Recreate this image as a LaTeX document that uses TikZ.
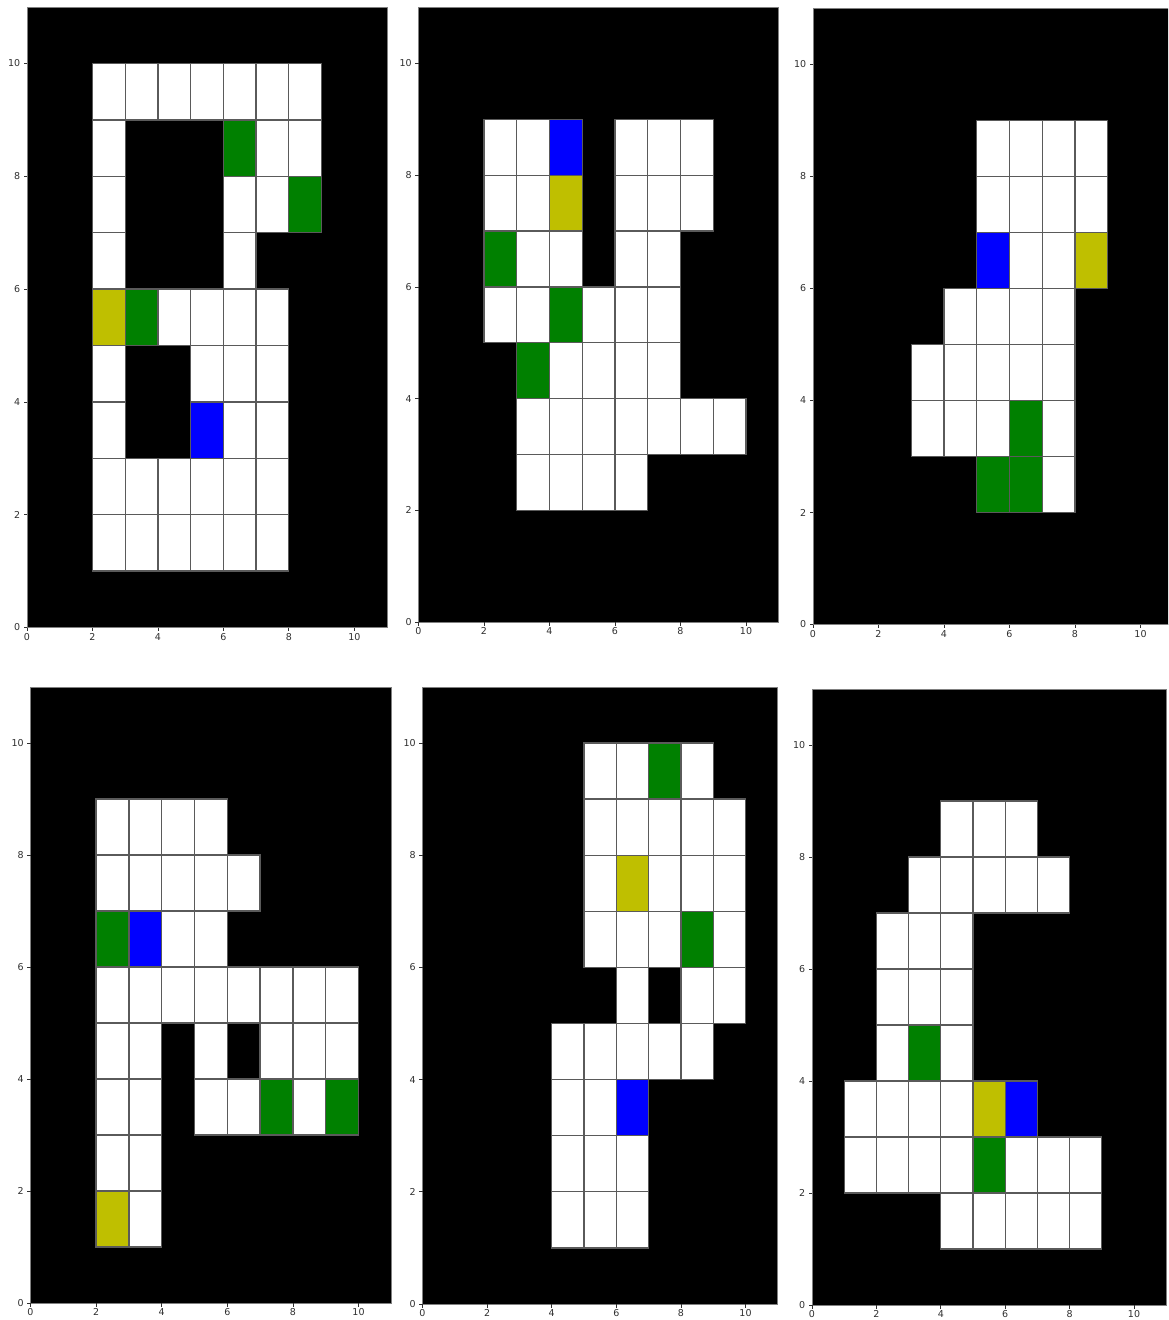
\documentclass[tikz,border=0pt]{standalone}
\usepackage{fontspec}
\setmainfont{DejaVu Sans}
\definecolor{mgreen}{HTML}{008000}
\definecolor{myellow}{HTML}{BFBF00}
\definecolor{mblue}{HTML}{0000FF}
\definecolor{edgegray}{HTML}{5A5A5A}
\definecolor{spinegray}{HTML}{808080}
\definecolor{lblgray}{HTML}{303030}
\tikzset{
  cellbox/.style={draw=edgegray, line width=1.3pt},
  spineln/.style={draw=spinegray, line width=0.8pt},
  tickln/.style={draw=lblgray, line width=0.8pt},
  ticklbl/.style={inner sep=0pt, text=lblgray, font=\fontsize{9.5}{10}\selectfont},
}
% #1 name, #2 x0, #3 ux, #4 y0, #5 uy, #6 white, #7 green, #8 yellow, #9 blue
\newcommand\gridpanel[9]{%
  \begin{scope}[shift={(#2,-#4)}]
    \fill[black] (0,0) rectangle ({11*#3},{11*#5});
    \begin{scope}[xscale=#3, yscale=#5]
      \foreach \cx/\cy in {#6} \filldraw[cellbox, fill=white] (\cx,\cy) rectangle ++(1,1);
      \foreach \cx/\cy in {#7} \filldraw[cellbox, fill=mgreen] (\cx,\cy) rectangle ++(1,1);
      \foreach \cx/\cy in {#8} \filldraw[cellbox, fill=myellow] (\cx,\cy) rectangle ++(1,1);
      \foreach \cx/\cy in {#9} \filldraw[cellbox, fill=mblue] (\cx,\cy) rectangle ++(1,1);
    \end{scope}
    \draw[spineln] (0,0) rectangle ({11*#3},{11*#5});
    \foreach \t in {0,2,...,10}{
      \draw[tickln] ({\t*#3},0) -- ++(0,-3.5) node[below=2pt, ticklbl] (#1x\t) {\t};
      \draw[tickln] (0,{\t*#5}) -- ++(-3.5,0) node[left=3pt, ticklbl] (#1y\t) {\t};
    }
  \end{scope}}
\begin{document}
\begin{tikzpicture}[x=1pt, y=1pt]
\useasboundingbox (0,0) rectangle (1168,-1320);
\clip (0,0) rectangle (1168,-1320);
\fill[white] (0,0) rectangle (1168,-1320);
% panel 1
\gridpanel{pa}{27}{32.73}{627.5}{56.4}
 {2/9,3/9,4/9,5/9,6/9,7/9,8/9, 2/8,7/8,8/8, 2/7,6/7,7/7, 2/6,6/6, 4/5,5/5,6/5,7/5, 2/4,5/4,6/4,7/4, 2/3,6/3,7/3, 2/2,3/2,4/2,5/2,6/2,7/2, 2/1,3/1,4/1,5/1,6/1,7/1}
 {6/8,8/7,3/5}{2/5}{5/3}
% panel 2
\gridpanel{pb}{418.5}{32.75}{622}{55.85}
 {2/8,3/8,6/8,7/8,8/8, 2/7,3/7,6/7,7/7,8/7, 3/6,4/6,6/6,7/6, 2/5,3/5,5/5,6/5,7/5, 4/4,5/4,6/4,7/4, 3/3,4/3,5/3,6/3,7/3,8/3,9/3, 3/2,4/2,5/2,6/2}
 {2/6,4/5,3/4}{4/7}{4/8}
% panel 3
\gridpanel{pc}{813}{32.75}{624.5}{56.0}
 {5/8,6/8,7/8,8/8, 5/7,6/7,7/7,8/7, 6/6,7/6, 4/5,5/5,6/5,7/5, 3/4,4/4,5/4,6/4,7/4, 3/3,4/3,5/3,7/3, 7/2}
 {6/3,5/2,6/2}{8/6}{5/6}
% panel 4
\gridpanel{pd}{30.5}{32.8}{1303}{56.0}
 {2/8,3/8,4/8,5/8, 2/7,3/7,4/7,5/7,6/7, 4/6,5/6, 2/5,3/5,4/5,5/5,6/5,7/5,8/5,9/5, 2/4,3/4,5/4,7/4,8/4,9/4, 2/3,3/3,5/3,6/3,8/3, 2/2,3/2, 3/1}
 {2/6,7/3,9/3}{2/1}{3/6}
% panel 5
\gridpanel{pe}{422.5}{32.3}{1304}{56.1}
 {5/9,6/9,8/9, 5/8,6/8,7/8,8/8,9/8, 5/7,7/7,8/7,9/7, 5/6,6/6,7/6,9/6, 6/5,8/5,9/5, 4/4,5/4,6/4,7/4,8/4, 4/3,5/3, 4/2,5/2,6/2, 4/1,5/1,6/1}
 {7/9,8/6}{6/7}{6/3}
% panel 6
\gridpanel{pf}{812}{32.2}{1305}{56.0}
 {4/8,5/8,6/8, 3/7,4/7,5/7,6/7,7/7, 2/6,3/6,4/6, 2/5,3/5,4/5, 2/4,4/4, 1/3,2/3,3/3,4/3, 1/2,2/2,3/2,4/2,6/2,7/2,8/2, 4/1,5/1,6/1,7/1,8/1}
 {3/4,5/2}{5/3}{6/3}
\end{tikzpicture}
\end{document}
